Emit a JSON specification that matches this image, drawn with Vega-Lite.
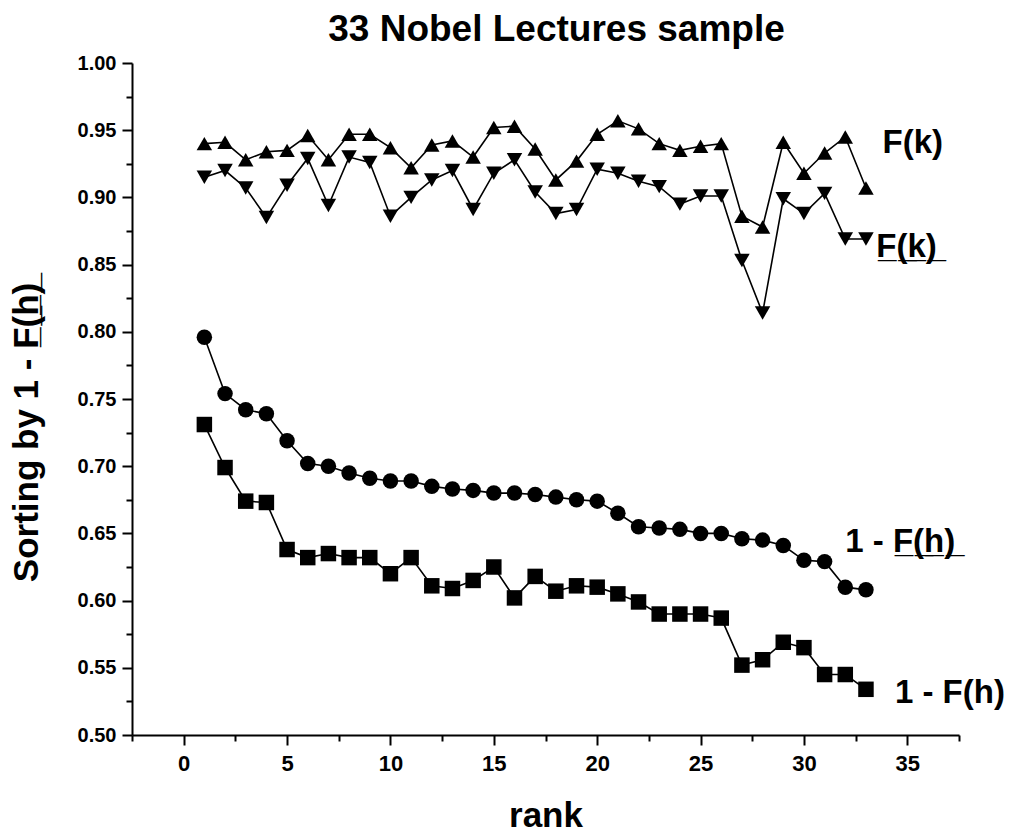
{
  "$schema": "https://vega.github.io/schema/vega-lite/v6.json",
  "autosize": {"type": "none"},
  "width": 827,
  "height": 672,
  "padding": {"left": 132, "top": 63, "right": 55, "bottom": 99},
  "background": "white",
  "config": {"view": {"stroke": null}},
  "title": {"text": "33 Nobel Lectures sample", "fontSize": 37, "font": "Liberation Sans", "fontWeight": "bold", "color": "black", "anchor": "middle", "frame": "group", "offset": 4, "dx": 11},
  "datasets": {
    "pts": [
      {"k":1,"v":0.940,"s":"Fk"},{"k":2,"v":0.941,"s":"Fk"},{"k":3,"v":0.928,"s":"Fk"},{"k":4,"v":0.934,"s":"Fk"},{"k":5,"v":0.935,"s":"Fk"},{"k":6,"v":0.946,"s":"Fk"},{"k":7,"v":0.928,"s":"Fk"},{"k":8,"v":0.947,"s":"Fk"},{"k":9,"v":0.947,"s":"Fk"},{"k":10,"v":0.937,"s":"Fk"},{"k":11,"v":0.922,"s":"Fk"},{"k":12,"v":0.939,"s":"Fk"},{"k":13,"v":0.942,"s":"Fk"},{"k":14,"v":0.930,"s":"Fk"},{"k":15,"v":0.952,"s":"Fk"},{"k":16,"v":0.953,"s":"Fk"},{"k":17,"v":0.936,"s":"Fk"},{"k":18,"v":0.913,"s":"Fk"},{"k":19,"v":0.927,"s":"Fk"},{"k":20,"v":0.947,"s":"Fk"},{"k":21,"v":0.957,"s":"Fk"},{"k":22,"v":0.951,"s":"Fk"},{"k":23,"v":0.940,"s":"Fk"},{"k":24,"v":0.935,"s":"Fk"},{"k":25,"v":0.938,"s":"Fk"},{"k":26,"v":0.940,"s":"Fk"},{"k":27,"v":0.886,"s":"Fk"},{"k":28,"v":0.878,"s":"Fk"},{"k":29,"v":0.941,"s":"Fk"},{"k":30,"v":0.918,"s":"Fk"},{"k":31,"v":0.933,"s":"Fk"},{"k":32,"v":0.945,"s":"Fk"},{"k":33,"v":0.907,"s":"Fk"},
      {"k":1,"v":0.915,"s":"Fku"},{"k":2,"v":0.920,"s":"Fku"},{"k":3,"v":0.907,"s":"Fku"},{"k":4,"v":0.885,"s":"Fku"},{"k":5,"v":0.909,"s":"Fku"},{"k":6,"v":0.929,"s":"Fku"},{"k":7,"v":0.894,"s":"Fku"},{"k":8,"v":0.930,"s":"Fku"},{"k":9,"v":0.926,"s":"Fku"},{"k":10,"v":0.886,"s":"Fku"},{"k":11,"v":0.900,"s":"Fku"},{"k":12,"v":0.913,"s":"Fku"},{"k":13,"v":0.920,"s":"Fku"},{"k":14,"v":0.891,"s":"Fku"},{"k":15,"v":0.918,"s":"Fku"},{"k":16,"v":0.928,"s":"Fku"},{"k":17,"v":0.904,"s":"Fku"},{"k":18,"v":0.888,"s":"Fku"},{"k":19,"v":0.891,"s":"Fku"},{"k":20,"v":0.921,"s":"Fku"},{"k":21,"v":0.918,"s":"Fku"},{"k":22,"v":0.912,"s":"Fku"},{"k":23,"v":0.908,"s":"Fku"},{"k":24,"v":0.895,"s":"Fku"},{"k":25,"v":0.901,"s":"Fku"},{"k":26,"v":0.901,"s":"Fku"},{"k":27,"v":0.853,"s":"Fku"},{"k":28,"v":0.814,"s":"Fku"},{"k":29,"v":0.899,"s":"Fku"},{"k":30,"v":0.888,"s":"Fku"},{"k":31,"v":0.903,"s":"Fku"},{"k":32,"v":0.869,"s":"Fku"},{"k":33,"v":0.869,"s":"Fku"},
      {"k":1,"v":0.796,"s":"Fhu"},{"k":2,"v":0.754,"s":"Fhu"},{"k":3,"v":0.742,"s":"Fhu"},{"k":4,"v":0.739,"s":"Fhu"},{"k":5,"v":0.719,"s":"Fhu"},{"k":6,"v":0.702,"s":"Fhu"},{"k":7,"v":0.700,"s":"Fhu"},{"k":8,"v":0.695,"s":"Fhu"},{"k":9,"v":0.691,"s":"Fhu"},{"k":10,"v":0.689,"s":"Fhu"},{"k":11,"v":0.689,"s":"Fhu"},{"k":12,"v":0.685,"s":"Fhu"},{"k":13,"v":0.683,"s":"Fhu"},{"k":14,"v":0.682,"s":"Fhu"},{"k":15,"v":0.680,"s":"Fhu"},{"k":16,"v":0.680,"s":"Fhu"},{"k":17,"v":0.679,"s":"Fhu"},{"k":18,"v":0.677,"s":"Fhu"},{"k":19,"v":0.675,"s":"Fhu"},{"k":20,"v":0.674,"s":"Fhu"},{"k":21,"v":0.665,"s":"Fhu"},{"k":22,"v":0.655,"s":"Fhu"},{"k":23,"v":0.654,"s":"Fhu"},{"k":24,"v":0.653,"s":"Fhu"},{"k":25,"v":0.650,"s":"Fhu"},{"k":26,"v":0.650,"s":"Fhu"},{"k":27,"v":0.646,"s":"Fhu"},{"k":28,"v":0.645,"s":"Fhu"},{"k":29,"v":0.641,"s":"Fhu"},{"k":30,"v":0.630,"s":"Fhu"},{"k":31,"v":0.629,"s":"Fhu"},{"k":32,"v":0.610,"s":"Fhu"},{"k":33,"v":0.608,"s":"Fhu"},
      {"k":1,"v":0.731,"s":"Fh"},{"k":2,"v":0.699,"s":"Fh"},{"k":3,"v":0.674,"s":"Fh"},{"k":4,"v":0.673,"s":"Fh"},{"k":5,"v":0.638,"s":"Fh"},{"k":6,"v":0.632,"s":"Fh"},{"k":7,"v":0.635,"s":"Fh"},{"k":8,"v":0.632,"s":"Fh"},{"k":9,"v":0.632,"s":"Fh"},{"k":10,"v":0.620,"s":"Fh"},{"k":11,"v":0.632,"s":"Fh"},{"k":12,"v":0.611,"s":"Fh"},{"k":13,"v":0.609,"s":"Fh"},{"k":14,"v":0.615,"s":"Fh"},{"k":15,"v":0.625,"s":"Fh"},{"k":16,"v":0.602,"s":"Fh"},{"k":17,"v":0.618,"s":"Fh"},{"k":18,"v":0.607,"s":"Fh"},{"k":19,"v":0.611,"s":"Fh"},{"k":20,"v":0.610,"s":"Fh"},{"k":21,"v":0.605,"s":"Fh"},{"k":22,"v":0.599,"s":"Fh"},{"k":23,"v":0.590,"s":"Fh"},{"k":24,"v":0.590,"s":"Fh"},{"k":25,"v":0.590,"s":"Fh"},{"k":26,"v":0.587,"s":"Fh"},{"k":27,"v":0.552,"s":"Fh"},{"k":28,"v":0.556,"s":"Fh"},{"k":29,"v":0.569,"s":"Fh"},{"k":30,"v":0.565,"s":"Fh"},{"k":31,"v":0.545,"s":"Fh"},{"k":32,"v":0.545,"s":"Fh"},{"k":33,"v":0.534,"s":"Fh"}
    ],
    "labels": [
      {"k":33.8,"v":0.9405,"t":"F(k)"},
      {"k":33.5,"v":0.8631,"t":"F̲(̲k̲)̲"},
      {"k":32.0,"v":0.6436,"t":"1 - F̲(̲h̲)̲"},
      {"k":34.4,"v":0.5313,"t":"1 - F(h)"}
    ]
  },
  "encoding": {
    "x": {"field": "k", "type": "quantitative",
      "scale": {"domain": [-2.5, 37.5], "nice": false, "zero": false},
      "axis": {"title": "rank", "values": [-2.5,0,2.5,5,7.5,10,12.5,15,17.5,20,22.5,25,27.5,30,32.5,35,37.5],
        "labelExpr": "datum.value % 5 === 0 ? format(datum.value, 'd') : ''",
        "grid": false, "domainColor": "black", "domainWidth": 2,
        "tickColor": "black", "tickWidth": 2,
        "tickSize": {"condition": {"test": "datum.value % 5 === 0", "value": 10}, "value": 6},
        "labelFont": "Liberation Sans Narrow, Liberation Sans", "labelFontSize": 22, "labelFontWeight": "bold", "labelColor": "black", "labelPadding": 8, "labelFlush": false, "labelOverlap": false,
        "titleFont": "Liberation Sans Narrow, Liberation Sans", "titleFontSize": 35, "titleFontWeight": "bold", "titleColor": "black", "titlePadding": 24}},
    "y": {"field": "v", "type": "quantitative",
      "scale": {"domain": [0.5, 1.0], "nice": false, "zero": false},
      "axis": {"title": "Sorting by  1 - F̲(̲h̲)̲",
        "values": [0.5,0.525,0.55,0.575,0.6,0.625,0.65,0.675,0.7,0.725,0.75,0.775,0.8,0.825,0.85,0.875,0.9,0.925,0.95,0.975,1.0],
        "labelExpr": "round(datum.value*1000) % 50 === 0 ? format(datum.value, '.2f') : ''",
        "grid": false, "domainColor": "black", "domainWidth": 2,
        "tickColor": "black", "tickWidth": 2,
        "tickSize": {"condition": {"test": "round(datum.value*1000) % 50 === 0", "value": 10}, "value": 6},
        "labelFont": "Liberation Sans", "labelFontSize": 20, "labelFontWeight": "bold", "labelColor": "black", "labelPadding": 6, "labelFlush": false, "labelOverlap": false,
        "titleFont": "Liberation Sans Narrow, Liberation Sans", "titleFontSize": 35, "titleFontWeight": "bold", "titleColor": "black",
        "titleX": -88, "titleY": 369}}
  },
  "layer": [
    {"data": {"name": "pts"},
     "mark": {"type": "line", "color": "black", "strokeWidth": 1.6},
     "encoding": {"detail": {"field": "s"}}},
    {"data": {"name": "pts"},
     "mark": {"type": "point", "filled": true, "color": "black", "opacity": 1},
     "encoding": {
       "shape": {"field": "s", "type": "nominal", "scale": {"domain": ["Fk","Fku","Fhu","Fh"], "range": ["triangle-up","triangle-down","circle","square"]}, "legend": null},
       "size": {"field": "s", "type": "nominal", "scale": {"domain": ["Fk","Fku","Fhu","Fh"], "range": [240,240,150,130]}, "legend": null}}},
    {"data": {"name": "labels"},
     "mark": {"type": "text", "align": "left", "baseline": "middle", "font": "Liberation Sans", "fontSize": 33, "fontWeight": "bold", "color": "black"},
     "encoding": {"text": {"field": "t"}}}
  ]
}
